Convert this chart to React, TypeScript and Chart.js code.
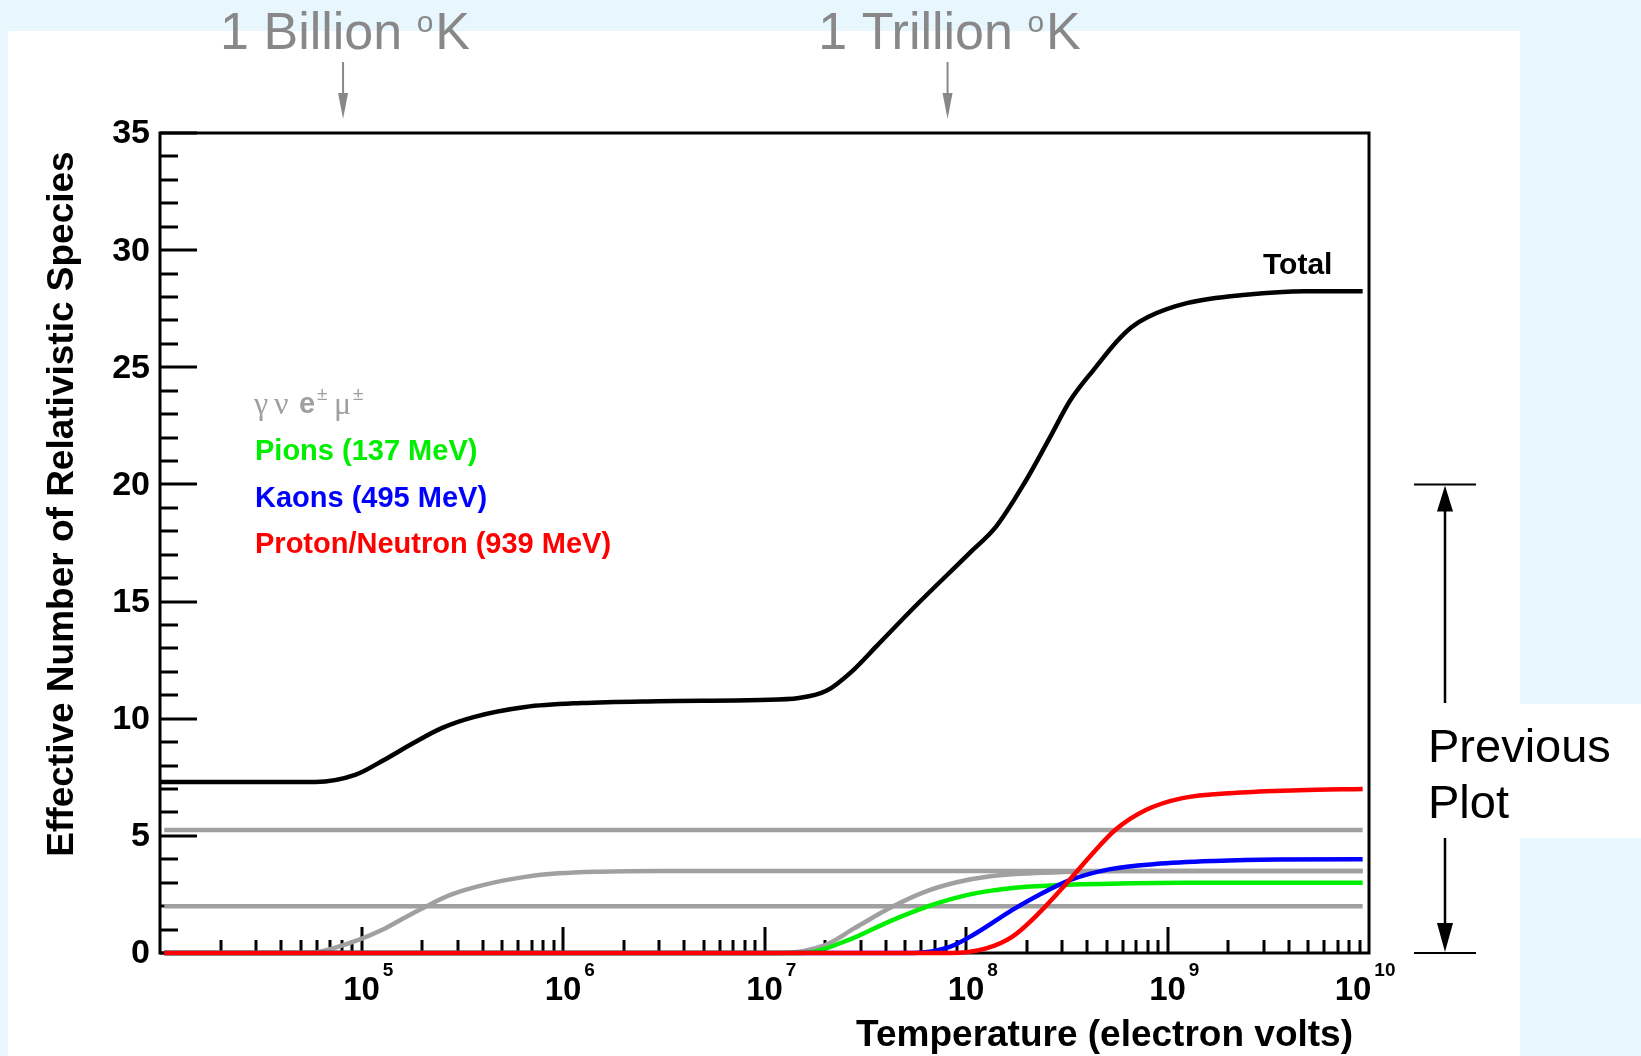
import React, { useEffect, useRef } from "react";
import { Chart, registerables } from "chart.js";

Chart.register(...registerables);

const W = 1641;
const H = 1056;

// ---- data (temperature in eV, effective number of species) ----
const totalT = [1e4, 5.9e4, 9.3e4, 1.3e5, 1.8e5, 2.5e5, 3.6e5, 6.5e5, 1.23e6, 2.95e6, 9.5e6, 1.48e7, 2.04e7, 2.7e7, 3.6e7, 5.6e7, 1.05e8, 1.41e8, 1.95e8, 2.57e8, 3.3e8, 4.4e8, 5.6e8, 6.6e8, 8.0e8, 1.26e9, 2.45e9, 4.8e9, 9.3e9];
const totalN = [7.3, 7.3, 7.6, 8.25, 8.95, 9.6, 10.07, 10.5, 10.67, 10.75, 10.8, 10.88, 11.2, 12.0, 13.1, 14.8, 17.1, 18.2, 20.06, 21.9, 23.6, 25.0, 26.1, 26.7, 27.15, 27.75, 28.1, 28.25, 28.25];

const photonT = [1.05e4, 9.3e9];
const photonN = [2.0, 2.0];

const neutrinoT = [1.05e4, 9.3e9];
const neutrinoN = [5.25, 5.25];

const electronT = [1.05e4, 5.5e4, 8.7e4, 1.26e5, 1.66e5, 2.1e5, 2.8e5, 4.1e5, 6.5e5, 9.5e5, 1.5e6, 3e6, 9.3e9];
const electronN = [0, 0, 0.42, 0.98, 1.54, 2.0, 2.5, 2.92, 3.25, 3.4, 3.47, 3.5, 3.5];

const muonT = [1.05e4, 1.2e7, 2.0e7, 2.8e7, 4.3e7, 6.2e7, 9.1e7, 1.32e8, 2.2e8, 3.5e8, 6e8, 9.3e9];
const muonN = [0, 0, 0.34, 1.06, 1.97, 2.6, 3.03, 3.28, 3.41, 3.47, 3.5, 3.5];

const pionT = [1.05e4, 1.55e7, 2.6e7, 4.1e7, 6.8e7, 1.02e8, 1.7e8, 3.0e8, 6.8e8, 1.2e9, 9.3e9];
const pionN = [0, 0, 0.55, 1.32, 2.05, 2.48, 2.77, 2.9, 2.98, 3.0, 3.0];

const kaonT = [1.05e4, 5.5e7, 8.3e7, 1.12e8, 1.7e8, 2.3e8, 3.3e8, 5.2e8, 8.7e8, 1.7e9, 3.5e9, 9.3e9];
const kaonN = [0, 0, 0.26, 0.84, 1.84, 2.48, 3.12, 3.58, 3.8, 3.93, 3.99, 4.0];

const nucleonT = [1.05e4, 8.3e7, 1.26e8, 1.7e8, 2.3e8, 3.16e8, 4.1e8, 5.5e8, 7.8e8, 1.17e9, 2.2e9, 4.5e9, 9.3e9];
const nucleonN = [0, 0, 0.2, 0.7, 1.7, 2.98, 4.1, 5.25, 6.1, 6.6, 6.84, 6.95, 7.0];

// ---- axes / annotations ----
const yTickValues = [0, 5, 10, 15, 20, 25, 30, 35];
const xDecadeExponents = [5, 6, 7, 8, 9, 10];
const markerLabels = ["1 Billion ", "1 Trillion "];
const markerTemps = [8.1e4, 8.1e7];
const legendLabels = ["Pions (137 MeV)", "Kaons (495 MeV)", "Proton/Neutron (939 MeV)"];
const legendColors = ["#00ee00", "#0000ff", "#ff0000"];
const previousRange = [0, 20];

const zip = (xs: number[], ys: number[]) => xs.map((x, i) => ({ x, y: ys[i] }));

const GRAY_LINE = "#a0a0a0";

const decor = {
  id: "decor",
  beforeDraw(chart: any) {
    const ctx = chart.ctx as CanvasRenderingContext2D;
    ctx.save();
    ctx.fillStyle = "#e8f6fd";
    ctx.fillRect(0, 0, W, H);
    ctx.fillStyle = "#ffffff";
    ctx.fillRect(8, 31, 1512, H - 31);
    ctx.fillRect(1520, 704, W - 1520, 134);
    ctx.restore();
  },
  beforeDatasetsDraw(chart: any) {
    const ctx = chart.ctx as CanvasRenderingContext2D;
    const a = chart.chartArea;
    const xs = chart.scales.x;
    const ys = chart.scales.y;
    ctx.save();
    ctx.strokeStyle = "#000";
    ctx.lineWidth = 3;
    ctx.strokeRect(a.left, a.top, a.right - a.left, a.bottom - a.top);
    for (let v = 0; v <= 35; v++) {
      const py = Math.round(ys.getPixelForValue(v));
      const len = v % 5 === 0 ? 37 : 18;
      ctx.beginPath();
      ctx.moveTo(a.left, py);
      ctx.lineTo(a.left + len, py);
      ctx.stroke();
    }
    for (let e = 4; e <= 9; e++) {
      for (let m = 1; m <= 9; m++) {
        if (e === 4 && m === 1) continue;
        const v = m * Math.pow(10, e);
        const px = Math.round(xs.getPixelForValue(v));
        const len = m === 1 ? 26 : 13;
        ctx.beginPath();
        ctx.moveTo(px, a.bottom);
        ctx.lineTo(px, a.bottom - len);
        ctx.stroke();
      }
    }
    ctx.restore();
  },
  afterDraw(chart: any) {
    const ctx = chart.ctx as CanvasRenderingContext2D;
    const xs = chart.scales.x;
    const ys = chart.scales.y;
    ctx.save();
    ctx.fillStyle = "#000";
    ctx.font = 'bold 34px "Liberation Sans", Arial, sans-serif';
    ctx.textAlign = "right";
    ctx.textBaseline = "middle";
    yTickValues.forEach((v) => {
      ctx.fillText(String(v), 150, ys.getPixelForValue(v) + 1);
    });
    ctx.textBaseline = "alphabetic";
    xDecadeExponents.forEach((ex, i) => {
      let px = xs.getPixelForValue(Math.pow(10, ex));
      if (i === xDecadeExponents.length - 1) px -= 16;
      ctx.font = 'bold 33px "Liberation Sans", Arial, sans-serif';
      ctx.textAlign = "center";
      ctx.fillText("10", px, 1000);
      const w = ctx.measureText("10").width;
      ctx.font = 'bold 19px "Liberation Sans", Arial, sans-serif';
      ctx.textAlign = "left";
      ctx.fillText(String(ex), px + w / 2 + 3, 976);
    });
    ctx.font = 'bold 37px "Liberation Sans", Arial, sans-serif';
    ctx.textAlign = "right";
    ctx.fillText("Temperature (electron volts)", 1353, 1046);
    ctx.save();
    ctx.translate(73, 504);
    ctx.rotate(-Math.PI / 2);
    ctx.textAlign = "center";
    ctx.textBaseline = "alphabetic";
    ctx.fillText("Effective Number of Relativistic Species", 0, 0);
    ctx.restore();

    ctx.font = 'bold 30px "Liberation Sans", Arial, sans-serif';
    ctx.textAlign = "left";
    ctx.fillText("Total", 1263, 274);

    // legend
    ctx.fillStyle = "#a0a0a0";
    ctx.font = '32px "Liberation Serif", serif';
    ctx.fillText("\u03b3", 254, 414);
    ctx.fillText("\u03bd", 274, 414);
    ctx.fillText("\u03bc", 334, 414);
    ctx.font = 'bold 29px "Liberation Sans", Arial, sans-serif';
    ctx.fillText("e", 299, 413);
    ctx.font = '19px "Liberation Sans", Arial, sans-serif';
    ctx.fillText("\u00b1", 317, 400);
    ctx.fillText("\u00b1", 353, 400);
    ctx.font = 'bold 29px "Liberation Sans", Arial, sans-serif';
    const legendBaselines = [460, 507, 553];
    legendLabels.forEach((t, i) => {
      ctx.fillStyle = legendColors[i];
      ctx.fillText(t, 255, legendBaselines[i]);
    });

    ctx.fillStyle = "#888888";
    ctx.strokeStyle = "#888888";
    markerLabels.forEach((lab, i) => {
      const px = xs.getPixelForValue(markerTemps[i]);
      ctx.font = '52px "Liberation Sans", Arial, sans-serif';
      const w1 = ctx.measureText(lab).width;
      const wK = ctx.measureText("K").width;
      ctx.font = '30px "Liberation Sans", Arial, sans-serif';
      const wo = ctx.measureText("o").width;
      const total = w1 + wo + wK + 2;
      const cx = px + 2 - total / 2;
      ctx.textAlign = "left";
      ctx.font = '52px "Liberation Sans", Arial, sans-serif';
      ctx.fillText(lab, cx, 49);
      ctx.font = '30px "Liberation Sans", Arial, sans-serif';
      ctx.fillText("o", cx + w1, 32);
      ctx.font = '52px "Liberation Sans", Arial, sans-serif';
      ctx.fillText("K", cx + w1 + wo + 2, 49);
      ctx.lineWidth = 2;
      ctx.beginPath();
      ctx.moveTo(px, 62);
      ctx.lineTo(px, 95);
      ctx.stroke();
      ctx.beginPath();
      ctx.moveTo(px - 5, 93);
      ctx.lineTo(px + 5, 93);
      ctx.lineTo(px, 119);
      ctx.closePath();
      ctx.fill();
    });

    const yTop = ys.getPixelForValue(previousRange[1]);
    const yBot = ys.getPixelForValue(previousRange[0]);
    const bx = 1445;
    ctx.strokeStyle = "#000";
    ctx.fillStyle = "#000";
    ctx.lineWidth = 2;
    ctx.beginPath();
    ctx.moveTo(1414, yTop);
    ctx.lineTo(1476, yTop);
    ctx.moveTo(1414, yBot);
    ctx.lineTo(1476, yBot);
    ctx.stroke();
    ctx.lineWidth = 2.5;
    ctx.beginPath();
    ctx.moveTo(bx, yTop + 25);
    ctx.lineTo(bx, 703);
    ctx.moveTo(bx, 838);
    ctx.lineTo(bx, yBot - 28);
    ctx.stroke();
    ctx.beginPath();
    ctx.moveTo(bx, yTop + 1);
    ctx.lineTo(bx - 8, yTop + 27);
    ctx.lineTo(bx + 8, yTop + 27);
    ctx.closePath();
    ctx.fill();
    ctx.beginPath();
    ctx.moveTo(bx, yBot - 1);
    ctx.lineTo(bx - 8, yBot - 30);
    ctx.lineTo(bx + 8, yBot - 30);
    ctx.closePath();
    ctx.fill();
    ctx.font = '47px "Liberation Sans", Arial, sans-serif';
    ctx.textAlign = "left";
    ctx.fillText("Previous", 1428, 762);
    ctx.fillText("Plot", 1428, 818);
    ctx.restore();
  },
};

export default function App() {
  const ref = useRef<HTMLCanvasElement | null>(null);
  useEffect(() => {
    if (!ref.current) return;
    const line = (data: any, color: string, order: number, width = 4.5) => ({
      data,
      borderColor: color,
      backgroundColor: color,
      borderWidth: width,
      pointRadius: 0,
      fill: false,
      clip: false,
      order,
    });
    const chart = new Chart(ref.current, {
      type: "line",
      data: {
        datasets: [
          line(zip(totalT, totalN), "#000000", 0, 4.5),
          line(zip(nucleonT, nucleonN), "#ff0000", 1),
          line(zip(kaonT, kaonN), "#0000ff", 2),
          line(zip(pionT, pionN), "#00ee00", 3),
          line(zip(muonT, muonN), GRAY_LINE, 4),
          line(zip(electronT, electronN), GRAY_LINE, 5),
          line(zip(neutrinoT, neutrinoN), GRAY_LINE, 6),
          line(zip(photonT, photonN), GRAY_LINE, 7),
        ] as any,
      },
      options: {
        responsive: false,
        animation: false,
        devicePixelRatio: 1,
        events: [],
        layout: { padding: { left: 160, right: W - 1369, top: 133, bottom: H - 953 } },
        plugins: { legend: { display: false }, tooltip: { enabled: false } },
        elements: { line: { cubicInterpolationMode: "monotone", borderCapStyle: "butt" } },
        scales: {
          x: { type: "logarithmic", min: 1e4, max: 1e10, display: false },
          y: { type: "linear", min: 0, max: 35, display: false },
        },
      } as any,
      plugins: [decor],
    });
    return () => chart.destroy();
  }, []);
  return (
    <div style={{ position: "absolute", left: 0, top: 0, width: W, height: H }}>
      <canvas ref={ref} width={W} height={H} style={{ display: "block" }} />
    </div>
  );
}
